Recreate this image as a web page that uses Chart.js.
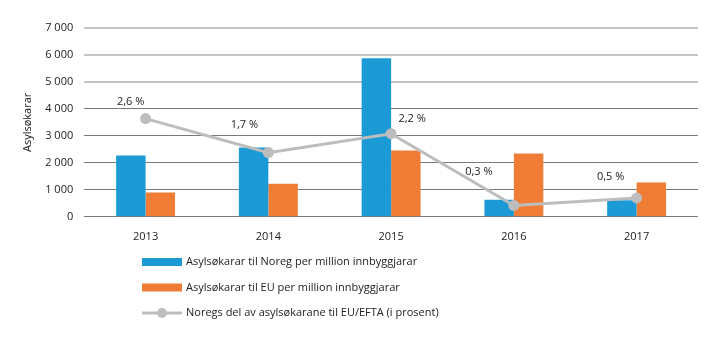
<!DOCTYPE html>
<html>
<head>
<meta charset="utf-8">
<script src="https://cdn.jsdelivr.net/npm/chart.js@4/dist/chart.umd.min.js"></script>
<style>
  html, body { margin: 0; padding: 0; background: #fff; }
  #wrap { width: 720px; height: 341px; position: relative; }
</style>
</head>
<body>
<div id="wrap"><canvas id="chart" width="720" height="341"></canvas></div>
<script>
// Data
const years = ['2013', '2014', '2015', '2016', '2017'];
const norwayPerMillion = [2270, 2570, 5880, 630, 610];
const euPerMillion = [900, 1230, 2460, 2350, 1270];
const norwayShare = [2.6, 1.7, 2.2, 0.3, 0.5];
const shareLabels = ['2,6 %', '1,7 %', '2,2 %', '0,3 %', '0,5 %'];
const yTicks = [0, 1000, 2000, 3000, 4000, 5000, 6000, 7000];

const seriesNames = [
    'Asylsøkarar til Noreg per million innbyggjarar',
    'Asylsøkarar til EU per million innbyggjarar',
    'Noregs del av asylsøkarane til EU/EFTA (i prosent)'
];

const BLUE = '#1b9ad6';
const ORANGE = '#ef7d35';
const GREY = '#bdbdbd';
const FONT = '"Open Sans", "DejaVu Sans", sans-serif';

// label offsets relative to each line point (dx, dy)
const labelOffsets = [[-15, -17], [-24, -28], [21, -15], [-35, -34], [-26, -21]];

function fmt(v) {
    return String(v).replace(/\B(?=(\d{3})+(?!\d))/g, ' ');
}

// draws the percent labels next to the line points
const pointLabels = {
    id: 'pointLabels',
    afterDatasetsDraw(chart) {
        const ctx = chart.ctx;
        const meta = chart.getDatasetMeta(2);
        ctx.save();
        ctx.font = '11px ' + FONT;
        ctx.fillStyle = '#222';
        ctx.textAlign = 'center';
        ctx.textBaseline = 'middle';
        meta.data.forEach((pt, i) => {
            ctx.fillText(shareLabels[i], pt.x + labelOffsets[i][0], pt.y + labelOffsets[i][1]);
        });
        ctx.restore();
    }
};

// vertical legend under the chart
const stackedLegend = {
    id: 'stackedLegend',
    afterDraw(chart) {
        const ctx = chart.ctx;
        const x0 = 142, y0 = 262, rowH = 25.5;
        ctx.save();
        ctx.font = '11px ' + FONT;
        ctx.fillStyle = '#222';
        ctx.textBaseline = 'middle';
        seriesNames.forEach((name, i) => {
            const y = y0 + i * rowH;
            if (i < 2) {
                ctx.fillStyle = i === 0 ? BLUE : ORANGE;
                ctx.fillRect(x0, y - 4, 40, 8);
            } else {
                ctx.strokeStyle = GREY;
                ctx.lineWidth = 3;
                ctx.beginPath();
                ctx.moveTo(x0, y);
                ctx.lineTo(x0 + 40, y);
                ctx.stroke();
                ctx.fillStyle = GREY;
                ctx.beginPath();
                ctx.arc(x0 + 20, y, 5, 0, Math.PI * 2);
                ctx.fill();
            }
            ctx.fillStyle = '#222';
            ctx.fillText(name, x0 + 44, y);
        });
        ctx.restore();
    }
};

const ctx = document.getElementById('chart').getContext('2d');
new Chart(ctx, {
    type: 'bar',
    data: {
        labels: years,
        datasets: [
            {
                label: seriesNames[0],
                data: norwayPerMillion,
                backgroundColor: BLUE,
                categoryPercentage: 0.48,
                barPercentage: 1.0,
                order: 2
            },
            {
                label: seriesNames[1],
                data: euPerMillion,
                backgroundColor: ORANGE,
                categoryPercentage: 0.48,
                barPercentage: 1.0,
                order: 2
            },
            {
                type: 'line',
                label: seriesNames[2],
                data: norwayShare,
                yAxisID: 'y2',
                borderColor: GREY,
                backgroundColor: GREY,
                borderWidth: 3,
                pointRadius: 5.5,
                pointBorderWidth: 0,
                tension: 0,
                order: 1
            }
        ]
    },
    options: {
        responsive: false,
        animation: false,
        layout: { padding: { left: 21, right: 22, top: 28, bottom: 93 } },
        plugins: {
            legend: { display: false },
            tooltip: { enabled: false }
        },
        scales: {
            x: {
                grid: { display: false },
                border: { display: false },
                ticks: { color: '#222', font: { family: FONT, size: 11 }, padding: 5 }
            },
            y: {
                min: 0,
                max: 7000,
                afterBuildTicks(axis) { axis.ticks = yTicks.map(v => ({ value: v })); },
                title: {
                    display: true,
                    text: 'Asylsøkarar',
                    color: '#222',
                    font: { family: FONT, size: 11 },
                    padding: { top: 0, bottom: 0 }
                },
                border: { display: false },
                grid: {
                    drawTicks: false,
                    color: c => c.tick && c.tick.value >= 5000 ? '#c4c4c4' : '#7a7a7a',
                    lineWidth: c => c.tick && c.tick.value >= 5000 ? 2 : 1
                },
                ticks: {
                    color: '#222',
                    font: { family: FONT, size: 11 },
                    padding: 11,
                    callback: v => fmt(v)
                }
            },
            y2: {
                display: false,
                min: 0,
                max: 5
            }
        }
    },
    plugins: [pointLabels, stackedLegend]
});
</script>
</body>
</html>
